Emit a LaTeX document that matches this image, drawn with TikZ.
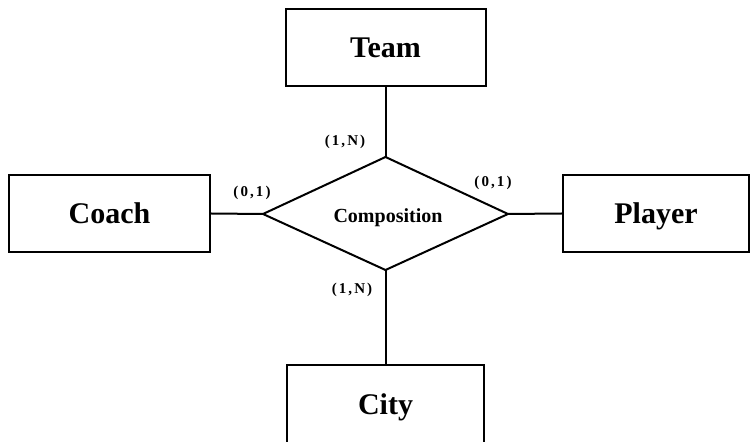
\documentclass[tikz,border=0pt]{standalone}
\usepackage{fontspec}
\setmainfont{Liberation Serif}
\newfontfamily\cardfont[LetterSpace=14]{Liberation Serif}
\begin{document}
\begin{tikzpicture}[x=1pt,y=1pt,
  entity/.style={draw=black,line width=2pt,rectangle,minimum height=77pt,inner sep=0pt,
    text height=20.5pt,text depth=0pt,
    font=\fontsize{30}{36}\selectfont\bfseries},
  conn/.style={draw=black,line width=2pt},
  card/.style={inner sep=0pt,font=\cardfont\fontsize{15}{18}\selectfont\bfseries},
  rel/.style={inner sep=0pt,font=\fontsize{20}{24}\selectfont\bfseries}]
\useasboundingbox (0,0) rectangle (751,441);
\clip (0,0) rectangle (751,441);
\fill[white] (0,0) rectangle (751,441);
% entities
\node[entity,minimum width=200pt] (team) at (385.5,393.5) {Team};
\node[entity,minimum width=201pt] (coach) at (109.5,227.5) {Coach};
\node[entity,minimum width=186pt] (player) at (656,227.5) {Player};
\node[entity,minimum width=197pt,minimum height=78pt] (city) at (385.5,37) {City};
% relationship diamond
\coordinate (dl) at (263,227);
\coordinate (dr) at (508,227);
\coordinate (dt) at (385.5,284);
\coordinate (db) at (385.5,171);
\draw[conn,line join=miter] (dl) -- (dt) -- (dr) -- (db) -- cycle;
\node[rel,anchor=base] (rel) at (388,218) {Composition};
% connectors
\draw[conn] (team.south) -- (dt);
\draw[conn] (coach.east) -- (dl);
\draw[conn] (dr) -- (player.west);
\draw[conn] (db) -- (city.north);
% cardinalities
\node[card] (c1) at (345,299) {(1,N)};
\node[card] (c2) at (252,248) {(0,1)};
\node[card] (c3) at (493,258) {(0,1)};
\node[card] (c4) at (352,151) {(1,N)};
\end{tikzpicture}
\end{document}
